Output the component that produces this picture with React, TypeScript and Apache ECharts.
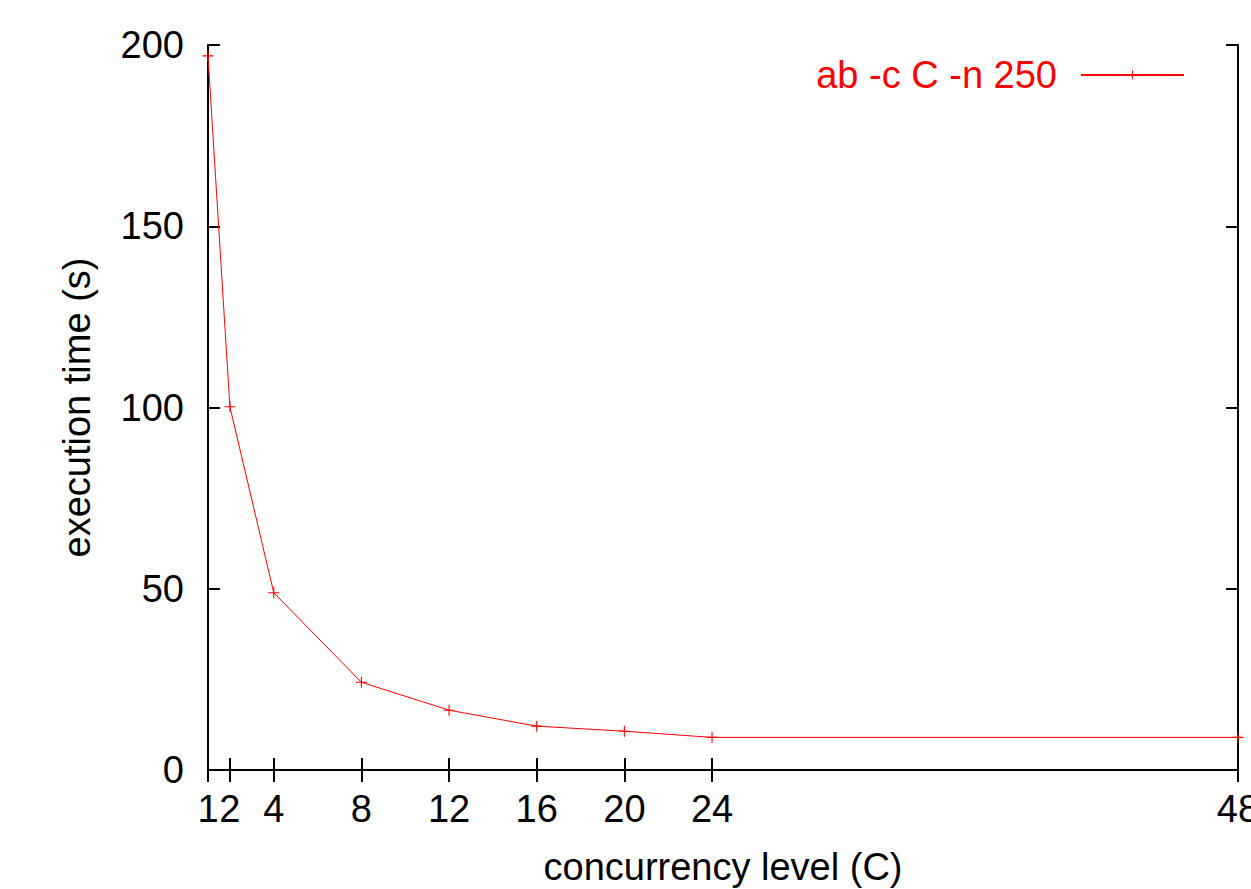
import React, { useEffect, useRef } from "react";
import * as echarts from "echarts";

const concurrency = [1, 2, 4, 8, 12, 16, 20, 24, 48];
const execTime = [197.0, 100.2, 48.9, 24.2, 16.5, 12.1, 10.7, 9.0, 9.0];
const xTicks = [1, 2, 4, 8, 12, 16, 20, 24, 48];
const seriesName = "ab -c C -n 250";

const FONT = "'Liberation Sans', Arial, sans-serif";
const PLUS = "path://M4.5,0h1v4.5h4.5v1h-4.5v4.5h-1v-4.5h-4.5v-1h4.5z";

export default function App() {
  const ref = useRef<HTMLDivElement>(null);
  useEffect(() => {
    if (!ref.current) return;
    const chart = echarts.init(ref.current, null, { renderer: "svg" });
    const axisLine = { show: true, lineStyle: { color: "#000", width: 2 } };
    const xBase = {
      type: "value" as const,
      min: 1,
      max: 48,
      axisLine,
      splitLine: { show: false },
      axisTick: { inside: true, length: 12, lineStyle: { color: "#000", width: 2 }, customValues: xTicks },
    };
    const yBase = {
      type: "value" as const,
      min: 0,
      max: 200,
      interval: 50,
      axisLine,
      splitLine: { show: false },
      axisTick: { inside: true, length: 12, lineStyle: { color: "#000", width: 2 } },
    };
    chart.setOption({
      animation: false,
      backgroundColor: "#fff",
      grid: { left: 208, top: 45, right: 13, bottom: 119, containLabel: false, outerBoundsMode: "none" },
      legend: {
        show: true,
        data: [seriesName],
        right: 61,
        top: 51,
        align: "right",
        itemWidth: 103,
        itemHeight: 11,
        textStyle: { color: "#ff0000", fontSize: 38, fontFamily: FONT, padding: [0, 19, 0, 0] },
      },
      xAxis: [
        {
          ...xBase,
          position: "bottom",
          name: "concurrency level (C)",
          nameLocation: "middle",
          nameGap: 78,
          nameTextStyle: { color: "#000", fontSize: 38, fontFamily: FONT },
          axisLabel: { color: "#000", fontSize: 38, fontFamily: FONT, margin: 20, customValues: xTicks },
        },
        {
          ...xBase,
          position: "top",
          axisLabel: { show: false, customValues: xTicks },
        },
      ],
      yAxis: [
        {
          ...yBase,
          position: "left",
          name: "execution time (s)",
          nameLocation: "middle",
          nameGap: 112,
          nameTextStyle: { color: "#000", fontSize: 38, fontFamily: FONT },
          axisLabel: { color: "#000", fontSize: 38, fontFamily: FONT, margin: 24 },
        },
        {
          ...yBase,
          position: "right",
          axisLabel: { show: false },
        },
      ],
      series: [
        {
          name: seriesName,
          type: "line",
          xAxisIndex: 0,
          yAxisIndex: 0,
          data: concurrency.map((c, i) => [c, execTime[i]]),
          symbol: PLUS,
          symbolSize: 11,
          showAllSymbol: true,
          clip: false,
          lineStyle: { color: "#ff0000", width: 1 },
          itemStyle: { color: "#ff0000" },
        },
      ],
    });
    return () => chart.dispose();
  }, []);
  return (
    <div
      ref={ref}
      style={{ position: "fixed", left: 0, top: 0, width: 1251, height: 889, background: "#fff" }}
    />
  );
}
